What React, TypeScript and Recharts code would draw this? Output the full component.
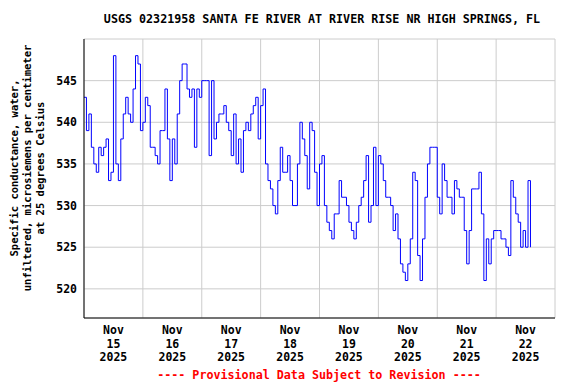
import { CartesianGrid, Line, LineChart, XAxis, YAxis } from "recharts";

// hourly specific conductance readings, one array per day (hour 0..23)
const nov15 = [543, 539, 541, 537, 535, 534, 537, 536, 537, 538, 533, 534, 548, 535, 533, 538, 541, 543, 541, 540, 544, 548, 547, 539];
const nov16 = [540, 543, 542, 537, 537, 536, 535, 539, 539, 544, 538, 533, 538, 535, 541, 545, 547, 547, 544, 543, 544, 537, 544, 543];
const nov17 = [545, 545, 545, 536, 545, 538, 540, 541, 541, 542, 540, 539, 536, 541, 535, 538, 534, 539, 540, 539, 541, 542, 543, 538];
const nov18 = [542, 544, 535, 533, 532, 530, 529, 533, 537, 534, 534, 536, 533, 530, 530, 535, 540, 538, 536, 532, 540, 539, 534, 530];
const nov19 = [535, 536, 530, 528, 527, 526, 529, 529, 533, 531, 531, 530, 528, 527, 526, 528, 530, 531, 533, 536, 528, 530, 537, 530];
const nov20 = [536, 535, 533, 531, 531, 530, 527, 529, 526, 523, 522, 521, 523, 526, 534, 533, 524, 521, 526, 531, 535, 537, 537, 537];
const nov21 = [531, 529, 535, 533, 531, 531, 529, 533, 532, 531, 531, 527, 523, 527, 532, 532, 532, 534, 529, 521, 526, 523, 526, 527];
const nov22 = [527, 527, 526, 526, 525, 524, 533, 531, 529, 528, 525, 527, 525, 533, 525];

const tickMonth = "Nov";
const tickYear = "2025";
const tickDays = ["15", "16", "17", "18", "19", "20", "21", "22"];
const yTicks = [520, 525, 530, 535, 540, 545];

const title = "USGS 02321958 SANTA FE RIVER AT RIVER RISE NR HIGH SPRINGS, FL";
const yLabelLines = [
  "Specific conductance, water,",
  "unfiltered, microsiemens per centimeter",
  "at 25 degrees Celsius",
];
const footer = "---- Provisional Data Subject to Revision ----";

const data = [nov15, nov16, nov17, nov18, nov19, nov20, nov21, nov22]
  .flat()
  .map((value, hour) => ({ hour, value }));

const FONT = '"DejaVu Sans Mono", "Liberation Mono", monospace';
const W = 576;
const H = 384;
const PLOT_LEFT = 84;
const PLOT_RIGHT = 21;
const HOURS = 192;
const HALF_DAY = ((W - PLOT_LEFT - PLOT_RIGHT) / HOURS) * 12;

const XTick = (props: any) => {
  const { x, y, payload } = props;
  const day = tickDays[Math.round(payload.value / 24)];
  const cx = x + HALF_DAY;
  return (
    <text
      textAnchor="middle"
      fontFamily={FONT}
      fontSize={11.5}
      fontWeight="bold"
      fill="#000"
    >
      <tspan x={cx} y={y + 16}>{tickMonth}</tspan>
      <tspan x={cx} y={y + 30}>{day}</tspan>
      <tspan x={cx} y={y + 43}>{tickYear}</tspan>
    </text>
  );
};

export default function App() {
  return (
    <div
      style={{
        position: "absolute",
        left: 0,
        top: 0,
        width: W,
        height: H,
        background: "#fff",
      }}
    >
      <LineChart
        width={W}
        height={H}
        data={data}
        margin={{ top: 39, right: PLOT_RIGHT, bottom: 0, left: 0 }}
      >
        <CartesianGrid stroke="#cccccc" strokeWidth={1} />
        <XAxis
          dataKey="hour"
          type="number"
          domain={[0, HOURS]}
          ticks={[0, 24, 48, 72, 96, 120, 144, 168]}
          height={66}
          tickSize={0}
          tickMargin={0}
          tick={<XTick />}
          axisLine={{ stroke: "#000" }}
          allowDataOverflow
        />
        <XAxis
          xAxisId="top"
          orientation="top"
          type="number"
          domain={[0, HOURS]}
          height={0}
          tick={false}
          tickLine={false}
          axisLine={{ stroke: "#000" }}
        />
        <YAxis
          type="number"
          domain={[516.5, 550]}
          ticks={yTicks}
          width={PLOT_LEFT}
          tickSize={0}
          tickMargin={7}
          tick={{ fontFamily: FONT, fontSize: 11.5, fontWeight: "bold", fill: "#000" }}
          axisLine={{ stroke: "#000" }}
          allowDataOverflow
        />
        <YAxis
          yAxisId="right"
          orientation="right"
          domain={[516.5, 550]}
          width={0}
          tick={false}
          tickLine={false}
          axisLine={{ stroke: "#000" }}
        />
        <Line
          type="stepAfter"
          dataKey="value"
          stroke="#0000ff"
          strokeWidth={1}
          dot={false}
          isAnimationActive={false}
        />
      </LineChart>
      <svg
        width={W}
        height={H}
        style={{ position: "absolute", left: 0, top: 0, pointerEvents: "none" }}
      >
        <text
          x={322}
          y={23}
          textAnchor="middle"
          fontFamily={FONT}
          fontSize={11.7}
          fontWeight="bold"
          fill="#000"
        >
          {title}
        </text>
        {yLabelLines.map((line, i) => (
          <text
            key={line}
            transform={`translate(${18 + i * 13}, 168) rotate(-90)`}
            textAnchor="middle"
            fontFamily={FONT}
            fontSize={10.5}
            fontWeight="bold"
            fill="#000"
          >
            {line}
          </text>
        ))}
        <text
          x={319}
          y={379}
          textAnchor="middle"
          fontFamily={FONT}
          fontSize={11.7}
          fontWeight="bold"
          fill="#ff0000"
        >
          {footer}
        </text>
      </svg>
    </div>
  );
}
